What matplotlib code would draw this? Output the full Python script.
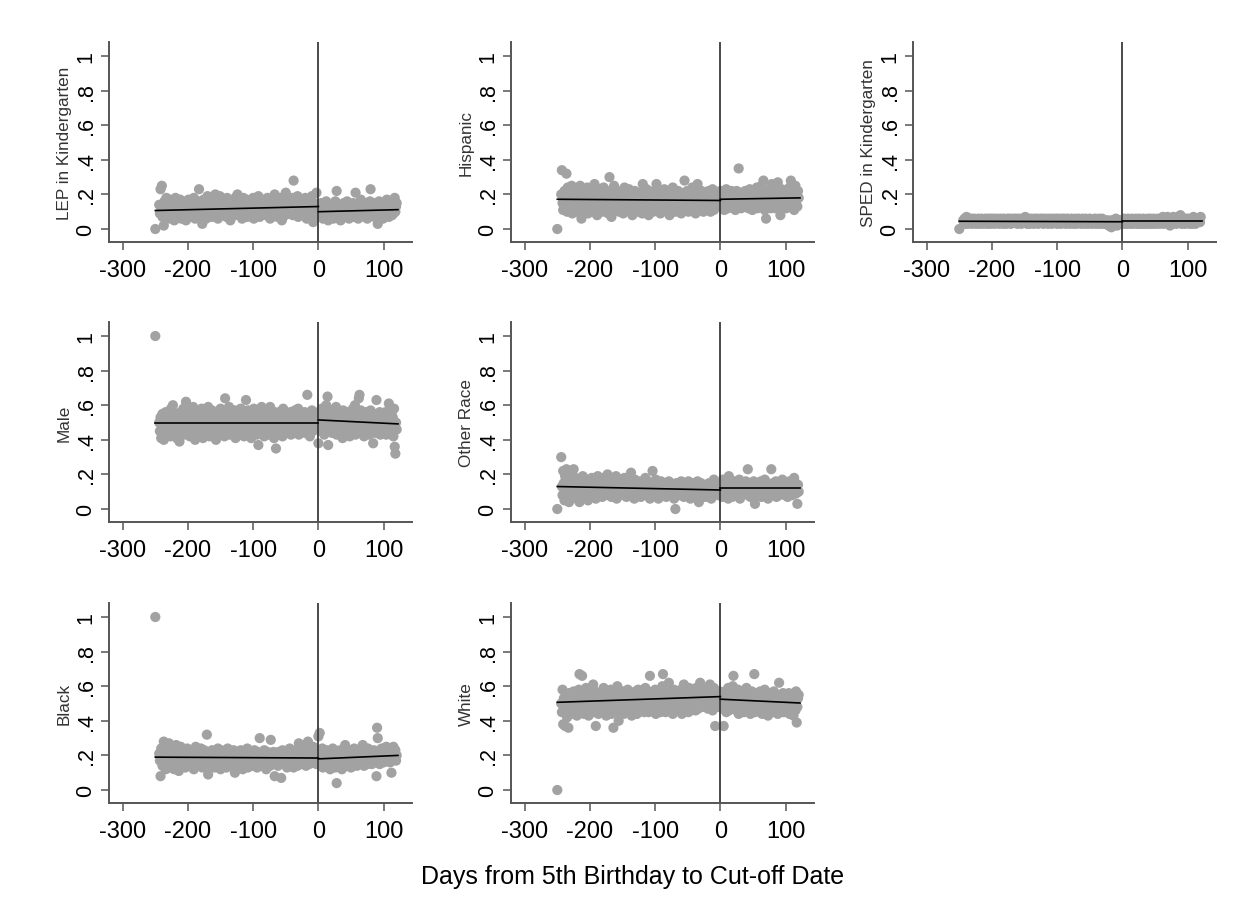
import numpy as np
import matplotlib
matplotlib.use("Agg")
import matplotlib.pyplot as plt

plt.rcParams['font.family'] = ['Liberation Sans', 'DejaVu Sans']

# ---------------- data ----------------
# x: days from 5th birthday to cut-off (first point is an isolated day at -250)
first_day = -250
day_start, day_end = -244, 120

titles = ["LEP in Kindergarten", "Hispanic", "SPED in Kindergarten",
          "Male", "Other Race", "Black", "White"]

# value at the isolated first day (-250), in proportion
first_vals = [0.0, 0.0, 0.0, 1.0, 0.0, 1.0, 0.0]

# daily means (in hundredths) for days -244..120
lep = """
14 09 23 12 25 07 11 02 16 13 08 18 10 15 06 12 17 09 14 11
08 16 13 05 12 18 10 07 15 11 14 09 17 12 06 13 10 16 08 14
11 05 15 12 09 17 13 07 14 10 16 12 08 18 11 06 13 15 09 12
16 23 10 07 14 12 03 11 17 09 15 13 06 12 19 10 08 14 16 11
13 07 18 12 10 15 20 09 11 14 06 16 12 19 08 13 10 17 11 14
09 15 12 07 18 11 13 16 10 05 14 12 17 09 13 11 08 15 12 19
20 10 14 08 12 16 11 06 13 18 09 15 12 10 17 07 14 11 13 16
12 08 15 11 18 06 13 10 16 09 14 12 19 11 07 15 13 10 17 12
09 14 11 16 08 13 18 12 10 15 06 14 11 17 09 13 12 20 10 15
13 07 16 11 14 09 18 12 05 15 10 13 17 08 21 12 14 11 16 09
13 10 15 12 18 08 28 14 11 16 09 13 19 07 12 15 10 17 11 14
12 16 09 14 18 11 06 15 13 10 17 12 08 14 19 11 04 15 13 12
10 21 14 12
09 13 07 11 15 08 12 06 10 14 09 12 16 07 11 05 13 10 08 12
14 09 11 06 13 10 16 08 22 12 07 11 14 09 05 13 10 12 08 15
11 07 13 09 16 10 12 06 14 08 11 13 09 15 07 12 10 21 08 13
11 06 14 10 12 17 08 13 09 11 15 07 12 10 14 06 13 09 11 16
23 10 08 13 11 15 07 12 09 14 10 03 12 16 08 11 13 09 15 06
12 10 14 08 11 17 09 13 07 12 10 15 11 08 14 09 12 18 10 13
15
"""

hispanic = """
20 34 15 11 19 22 13 17 32 10 24 16 12 21 18 14 25 09 17 20
15 12 23 18 10 16 21 13 19 25 14 06 17 22 11 18 15 20 13 16
24 09 17 21 12 19 15 22 14 10 18 26 16 12 20 08 17 23 14 19
13 16 21 10 18 24 15 12 19 14 22 17 09 20 30 13 18 07 16 21
12 25 15 19 11 17 22 14 20 10 16 18 13 21 15 09 19 24 12 17
14 20 11 18 23 15 12 17 21 08 19 14 16 22 13 18 10 20 15 17
12 21 16 19 09 26 14 17 11 20 15 23 13 18 08 16 21 12 19 14
17 10 22 15 18 13 26 11 19 16 14 21 09 17 20 12 18 15 23 13
16 19 11 22 14 17 08 20 15 18 12 24 16 13 21 10 17 19 14 22
15 12 18 21 09 16 20 13 17 28 11 19 14 22 16 10 18 15 20 13
17 24 12 19 15 21 09 18 14 26 16 11 20 17 13 22 15 19 10 18
16 21 13 17 19 12 22 15 18 10 20 14 23 16 11 19 17 21 14 18
16 20 13 19
22 15 19 13 21 17 11 20 16 23 14 18 12 21 17 19 15 22 13 18
20 14 17 11 19 22 16 13 35 18 15 21 12 17 20 14 19 16 22 13
18 15 21 12 17 23 14 19 16 11 20 17 22 13 18 15 24 12 19 16
14 21 17 25 13 19 28 16 11 22 06 18 15 20 13 23 17 12 19 26
16 21 14 18 12 22 15 19 27 17 13 20 08 16 23 18 14 21 15 19
17 12 22 16 19 14 24 18 28 13 20 15 17 11 21 25 16 19 13 22
18
"""

sped = """
05 04 06 03 05 07 04 05 03 06 04 05 06 04 03 05 04 06 05 04
03 05 04 06 05 03 04 05 06 04 05 03 05 04 06 05 04 03 05 06
04 05 03 06 04 05 04 06 03 05 04 05 06 04 05 03 04 06 05 04
05 03 06 04 05 04 03 05 06 04 05 04 06 03 05 04 05 06 04 05
04 06 05 03 04 05 06 04 05 03 04 06 05 04 05 07 04 05 03 06
05 04 03 05 06 04 05 04 03 06 05 04 05 06 04 03 05 04 06 05
04 05 06 03 04 05 04 06 05 04 03 05 06 04 05 04 03 06 05 04
05 04 06 05 03 04 06 05 04 05 03 06 04 05 04 06 05 03 04 05
06 04 05 03 05 04 06 04 05 03 04 05 06 04 03 05 04 06 05 04
05 03 04 06 05 04 05 03 06 04 05 04 03 05 06 04 05 04 03 05
04 05 06 04 03 05 04 05 06 03 04 05 04 06 03 05 04 03 05 04
03 05 04 02 04 03 05 01 04 03 05 02 04 03 06 04 02 05 03 04
05 03 04 04
03 05 04 06 03 04 05 03 04 06 05 04 03 05 04 06 03 05 04 05
04 06 03 05 04 03 06 05 04 03 05 04 06 03 05 04 05 03 04 06
05 04 03 06 04 05 03 04 06 05 04 03 05 04 06 04 05 03 04 05
06 04 07 03 05 04 06 05 04 07 03 05 04 02 06 04 05 03 07 04
05 06 04 03 05 07 04 06 05 08 04 03 05 06 04 05 03 06 04 05
04 06 05 03 05 04 06 03 05 07 04 05 03 06 04 05 04 06 05 04
07
"""

male = """
50 45 53 41 48 55 47 40 52 46 56 43 49 51 44 54 47 42 58 50
45 60 48 43 52 46 55 41 50 47 53 39 49 56 44 51 46 58 43 50
54 62 47 52 45 57 49 42 55 48 51 44 59 46 53 40 50 57 45 52
48 55 43 51 46 58 49 41 53 47 56 44 50 52 45 59 48 42 54 46
51 57 43 49 55 46 52 40 48 56 45 53 47 50 58 44 51 46 54 49
42 64 50 47 55 45 52 59 43 49 56 46 51 44 53 48 57 41 50 54
46 52 47 55 43 58 49 51 45 56 42 53 48 63 46 50 57 44 52 47
55 41 49 53 46 58 44 51 48 56 43 50 37 54 47 52 45 59 49 46
53 42 50 57 45 48 55 43 51 47 59 44 52 46 50 54 41 56 48 35
51 45 53 48 56 43 50 47 54 42 58 46 52 49 44 55 47 51 45 53
48 56 43 50 54 46 52 45 57 44 49 53 47 58 43 51 46 55 48 52
45 53 49 56 44 51 47 66 50 46 54 42 52 48 57 45 50 53 47 51
49 55 46 52
38 56 49 53 45 58 50 47 54 43 52 49 60 46 65 37 51 55 48 53
57 44 51 48 55 46 52 59 43 50 54 47 56 45 51 48 53 41 57 49
46 53 50 44 56 48 51 55 42 49 54 47 52 58 45 50 60 43 53 48
51 46 64 66 44 57 50 53 47 55 42 51 49 56 45 52 48 54 43 50
57 46 52 49 38 55 47 51 44 63 48 53 46 50 56 43 52 47 54 49
45 52 48 56 43 50 54 47 61 44 51 46 55 49 53 42 58 36 32 50
46
"""

other_race = """
30 13 08 22 15 05 19 11 23 14 09 17 04 20 12 16 07 13 10 23
15 09 18 12 06 14 17 10 04 13 16 08 12 19 11 07 15 13 09 17
12 05 14 16 10 13 08 18 11 15 09 12 17 06 14 11 19 13 08 15
12 10 16 07 13 18 11 14 09 15 12 20 08 13 16 10 14 07 12 17
11 15 09 13 19 06 12 16 10 14 08 13 17 11 15 09 12 18 10 14
07 13 16 11 14 08 12 21 10 15 09 13 06 17 12 11 14 08 16 12
10 14 07 13 16 11 09 15 12 18 08 13 11 16 10 14 06 12 15 09
22 11 14 08 13 17 10 12 15 06 11 14 09 16 12 10 13 08 15 11
13 07 14 10 12 16 09 11 15 08 13 10 14 06 12 00 11 15 09 13
10 14 08 12 16 09 11 13 07 15 10 12 08 14 11 16 09 13 06 12
11 15 08 13 10 14 07 12 09 16 11 04 13 10 15 08 12 11 14 09
12 07 14 10 13 08 11 15 09 12 06 14 10 11 17 08 13 09 12 10
14 08 11 13
09 15 12 07 17 11 14 08 13 10 16 12 06 19 11 14 09 13 07 15
12 10 16 08 13 11 14 09 12 17 06 13 10 15 08 12 14 11 09 16
10 13 23 08 12 15 07 14 11 09 13 16 10 03 12 14 08 15 11 13
09 12 16 07 14 10 13 08 17 11 12 09 15 06 13 10 14 11 23 08
12 15 09 13 11 16 07 14 10 12 08 15 11 13 09 17 10 12 14 08
13 11 15 07 12 10 16 09 14 12 08 13 11 18 10 15 09 12 03 14
10
"""

black = """
21 17 08 24 19 14 22 28 16 20 12 25 18 15 23 27 19 13 21 17
24 16 20 12 22 18 26 15 19 23 11 21 17 25 14 20 18 22 16 19
13 21 17 24 15 20 18 22 14 19 23 16 20 12 21 17 25 15 19 22
18 14 21 16 24 19 13 20 17 23 15 21 18 32 16 09 22 17 20 14
19 23 15 21 17 13 22 18 20 16 24 14 21 19 12 23 17 20 15 22
18 16 21 13 19 24 17 20 15 22 18 14 21 16 23 19 10 20 17 22
15 19 21 14 18 23 16 20 12 22 17 19 15 21 18 24 13 20 16 19
22 17 14 21 19 16 23 15 20 18 13 22 17 19 30 14 21 16 20 18
15 23 17 20 12 19 22 16 18 21 14 29 17 20 15 22 19 08 18 21
16 20 14 22 18 17 21 07 19 23 16 20 15 18 22 17 13 21 19 16
24 18 15 21 17 20 13 22 19 16 23 18 14 21 27 17 20 15 22 19
18 21 16 24 19 14 22 17 28 20 15 23 18 21 16 19 25 17 20 22
18 15 21 19
31 18 33 15 21 17 24 13 19 22 16 20 14 23 18 21 15 19 12 22
17 20 24 15 18 22 13 19 04 21 16 20 14 23 17 19 12 22 18 15
21 26 17 20 14 19 23 16 21 18 13 22 17 20 15 24 19 16 21 14
18 22 17 20 15 23 19 16 26 21 14 18 22 17 20 15 24 19 21 16
18 22 15 20 17 23 19 21 16 08 36 30 18 22 15 20 17 24 19 21
16 22 20 18 25 17 23 21 19 24 16 20 10 22 18 25 21 19 23 17
20
"""

white = """
50 45 58 38 53 47 37 55 49 42 52 36 56 48 51 44 54 46 50 57
53 47 49 55 43 51 46 58 67 50 45 54 66 48 52 44 56 49 59 47
51 55 43 49 58 46 52 48 54 61 45 50 57 37 53 47 55 44 51 48
56 50 45 53 48 59 46 51 55 43 57 49 52 47 54 50 58 44 52 48
36 55 51 47 53 49 60 45 40 52 56 48 54 46 51 57 44 53 49 55
47 52 58 45 50 54 48 56 43 51 55 49 53 46 57 50 44 52 58 48
54 50 46 56 52 48 55 45 51 59 47 53 49 57 45 52 66 48 54 50
56 46 52 49 58 44 53 50 55 47 51 57 45 53 49 60 67 47 54 51
45 56 50 53 48 62 46 52 57 49 54 44 51 58 47 53 50 55 48 52
57 46 53 50 58 44 52 49 61 47 55 51 56 48 53 45 59 50 54 46
52 57 48 55 50 53 46 59 51 56 47 54 49 62 52 57 48 55 50 53
58 49 54 51 56 47 55 50 61 48 53 57 46 52 59 49 37 55 51 56
48 54 50 57
52 56 48 54 47 37 55 50 57 45 53 49 59 46 51 54 48 56 50 60
66 47 53 50 55 46 52 58 44 51 49 56 47 53 50 57 45 52 48 54
59 46 51 55 48 53 44 50 57 47 52 49 67 45 54 51 48 56 46 53
50 57 47 52 44 55 49 51 58 46 53 48 54 43 50 56 47 52 49 55
45 51 57 48 53 46 50 55 44 52 62 48 54 49 47 51 56 45 53 50
48 54 46 52 49 56 44 51 47 53 50 55 43 49 52 46 57 39 48 53
55
"""

series_text = [lep, hispanic, sped, male, other_race, black, white]

# fitted linear segments: (value at -250, value at 0) and (value at 0, value at 122)
fit_left = [(0.107, 0.130), (0.172, 0.165), (0.045, 0.042), (0.497, 0.497),
            (0.130, 0.110), (0.190, 0.185), (0.507, 0.540)]
fit_right = [(0.100, 0.112), (0.172, 0.180), (0.045, 0.045), (0.515, 0.492),
             (0.120, 0.120), (0.180, 0.200), (0.525, 0.503)]
fit_left_x = (-250, 0)
fit_right_x = (0, 122)

grid_pos = [(0, 0), (0, 1), (0, 2), (1, 0), (1, 1), (2, 0), (2, 1)]

xticks = [-300, -200, -100, 0, 100]
yticks = [0, 0.2, 0.4, 0.6, 0.8, 1.0]
ytick_labels = ["0", ".2", ".4", ".6", ".8", "1"]
xlabel = "Days from 5th Birthday to Cut-off Date"

# ---------------- figure ----------------
W, H = 1256, 904
fig = plt.figure(figsize=(W / 100, H / 100), dpi=100)
fig.patch.set_facecolor("white")

col_left = [109, 511, 913]
row_bottom = [243, 523, 804]
ax_w, ax_h = 303, 200

days = np.concatenate([[first_day], np.arange(day_start, day_end + 1)])

for i, title in enumerate(titles):
    r, c = grid_pos[i]
    ax = fig.add_axes([col_left[c] / W, 1 - row_bottom[r] / H, ax_w / W, ax_h / H])
    vals = np.concatenate([[first_vals[i]], np.array(series_text[i].split(), float) / 100.0])
    ax.scatter(days, vals, s=54, color="#a2a2a2", edgecolors="none", zorder=1)
    ax.axvline(0, color="#3c3c3c", lw=1.3, zorder=2)
    ax.plot(fit_left_x, fit_left[i], color="black", lw=1.2, zorder=3)
    ax.plot(fit_right_x, fit_right[i], color="black", lw=1.2, zorder=3)

    ax.set_xlim(-321, 143.5)
    ax.set_ylim(-0.075, 1.081)
    ax.set_xticks(xticks)
    ax.set_xticklabels([str(t) for t in xticks])
    ax.set_yticks(yticks)
    ax.set_yticklabels(ytick_labels, rotation=90, va="center")

    for s in ["top", "right"]:
        ax.spines[s].set_visible(False)
    for s in ["left", "bottom"]:
        ax.spines[s].set_color("#555555")
        ax.spines[s].set_linewidth(1.4)
    ax.tick_params(axis="both", length=6, width=1.1, color="#555555",
                   labelcolor="black")
    ax.tick_params(axis="x", pad=6, labelsize=17)
    ax.tick_params(axis="y", pad=3, labelsize=15.5)

    ax.set_ylabel(title, fontsize=12.3, color="#333333")
    ax.yaxis.set_label_coords(-0.122, 0.5)

fig.text(633 / W, 1 - 877 / H, xlabel, ha="center", va="center",
         fontsize=18, color="black")

fig.savefig("out.png", dpi=100, facecolor="white")
